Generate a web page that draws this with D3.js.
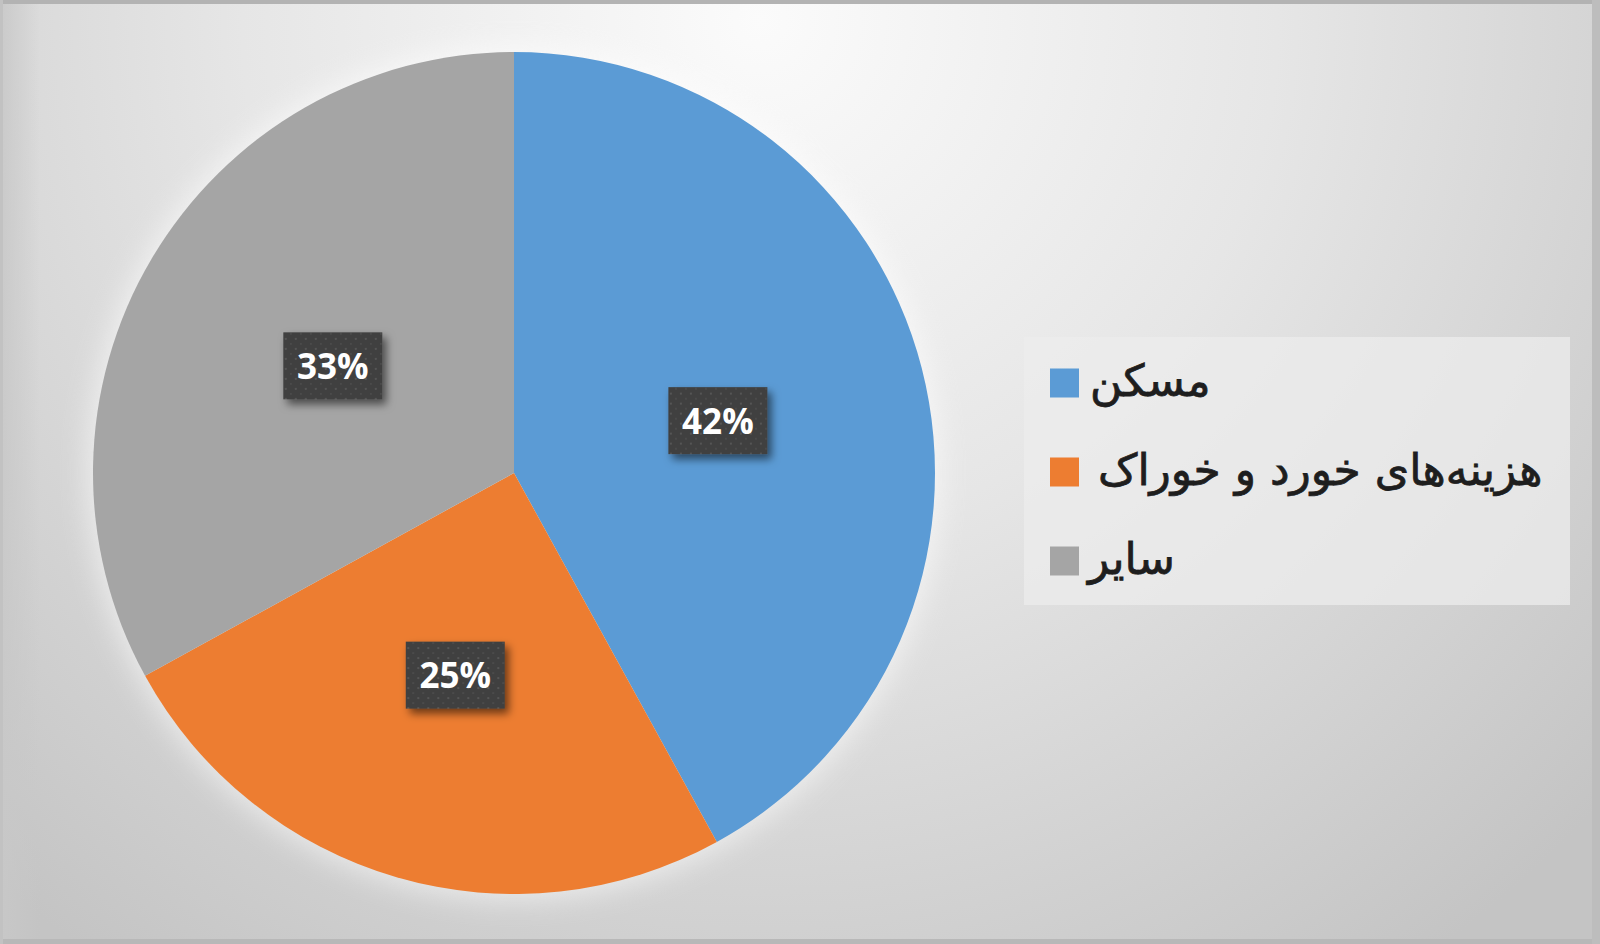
<!DOCTYPE html>
<html>
<head>
<meta charset="utf-8">
<script src="https://cdn.jsdelivr.net/npm/d3@7"></script>
<style>
  html, body { margin: 0; padding: 0; background: #d0d0d0; }
  svg { display: block; }
</style>
</head>
<body>
<div id="chart"></div>
<script>
// data
var categories = ["مسکن", "هزینه‌های خورد و خوراک", "سایر"];
var values = [42, 25, 33];
var labels = ["42%", "25%", "33%"];
var colors = ["#5B9BD5", "#ED7D31", "#A5A5A5"];

// dimensions
var width = 1600, height = 944;
var pieCenter = {x: 514, y: 473}, radius = 421;
var legend = {x: 1024, y: 337, w: 546, h: 268, sq: 29, rowStart: 383, rowStep: 89};

var svg = d3.select("#chart")
  .append("svg")
  .attr("width", width)
  .attr("height", height);

var defs = svg.append("defs");

// background radial gradient (white top middle -> grey edges)
var bgGrad = defs.append("radialGradient")
  .attr("id", "bg-grad")
  .attr("gradientUnits", "userSpaceOnUse")
  .attr("cx", 760).attr("cy", 20).attr("r", 1150);
bgGrad.append("stop").attr("offset", "0%").attr("stop-color", "#fbfbfb");
bgGrad.append("stop").attr("offset", "45%").attr("stop-color", "#e6e6e6");
bgGrad.append("stop").attr("offset", "100%").attr("stop-color", "#c4c4c4");

// darker shading at left edge
var leftGrad = defs.append("linearGradient").attr("id", "left-grad")
  .attr("x1", "0%").attr("x2", "100%").attr("y1", "0%").attr("y2", "0%");
leftGrad.append("stop").attr("offset", "0%").attr("stop-color", "#c8c8c8").attr("stop-opacity", 0.9);
leftGrad.append("stop").attr("offset", "100%").attr("stop-color", "#c8c8c8").attr("stop-opacity", 0);

// dotted texture for the label boxes
var dots = defs.append("pattern")
  .attr("id", "dots")
  .attr("patternUnits", "userSpaceOnUse")
  .attr("width", 10).attr("height", 10);
dots.append("rect").attr("width", 10).attr("height", 10).attr("fill", "#3f3f3f");
dots.append("circle").attr("cx", 3).attr("cy", 3).attr("r", 1.1).attr("fill", "#5a5a5a");
dots.append("circle").attr("cx", 8).attr("cy", 8).attr("r", 0.9).attr("fill", "#505050");

// shadow under label boxes
var shadow = defs.append("filter").attr("id", "shadow")
  .attr("x", "-30%").attr("y", "-30%").attr("width", "170%").attr("height", "170%");
shadow.append("feDropShadow")
  .attr("dx", 4).attr("dy", 5).attr("stdDeviation", 4)
  .attr("flood-color", "#000").attr("flood-opacity", 0.55);

// soft glow around the pie
var glow = defs.append("filter").attr("id", "glow")
  .attr("x", "-20%").attr("y", "-20%").attr("width", "140%").attr("height", "140%");
glow.append("feGaussianBlur").attr("stdDeviation", 14);

// background
svg.append("rect")
  .attr("width", width).attr("height", height)
  .attr("fill", "url(#bg-grad)");
svg.append("rect")
  .attr("width", 40).attr("height", height)
  .attr("fill", "url(#left-grad)");

// frame lines
svg.append("rect").attr("x", 0).attr("y", 0).attr("width", width).attr("height", 4).attr("fill", "#b3b3b3");
svg.append("rect").attr("x", 0).attr("y", 939).attr("width", width).attr("height", 5).attr("fill", "#b8b8b8");
svg.append("rect").attr("x", 1592).attr("y", 0).attr("width", 8).attr("height", height).attr("fill", "#bdbdbd");
svg.append("rect").attr("x", 0).attr("y", 0).attr("width", 3).attr("height", height).attr("fill", "#c2c2c2");

// pie
var pie = d3.pie().sort(null).value(function(d) { return d; });
var arc = d3.arc().innerRadius(0).outerRadius(radius);
var arcs = pie(values);

var pieG = svg.append("g")
  .attr("transform", `translate(${pieCenter.x}, ${pieCenter.y})`);

// glow halo behind pie
pieG.append("circle")
  .attr("r", radius + 6)
  .attr("fill", "#ffffff")
  .attr("opacity", 0.55)
  .attr("filter", "url(#glow)");

pieG.selectAll("path.slice")
  .data(arcs)
  .enter()
  .append("path")
  .attr("class", "slice")
  .attr("d", arc)
  .attr("fill", function(d, i) { return colors[i]; });

// data labels
var boxW = 99, boxH = 67;
var lab = pieG.selectAll("g.lab")
  .data(arcs)
  .enter()
  .append("g")
  .attr("class", "lab")
  .attr("transform", function(d) {
    var c = arc.centroid(d);
    return `translate(${c[0]}, ${c[1]})`;
  });

lab.append("rect")
  .attr("x", -boxW / 2).attr("y", -boxH / 2)
  .attr("width", boxW).attr("height", boxH)
  .attr("fill", "url(#dots)")
  .attr("filter", "url(#shadow)");

lab.append("text")
  .attr("text-anchor", "middle")
  .attr("y", 13)
  .attr("font-family", "'Open Sans', sans-serif")
  .attr("font-weight", "bold")
  .attr("font-size", "35px")
  .attr("fill", "#ffffff")
  .text(function(d, i) { return labels[i]; });

// legend
var legG = svg.append("g");
legG.append("rect")
  .attr("x", legend.x).attr("y", legend.y)
  .attr("width", legend.w).attr("height", legend.h)
  .attr("fill", "#ececec")
  .attr("opacity", 0.75);

var textOffset = [40, 48, 38];

var items = legG.selectAll("g.item")
  .data(categories)
  .enter()
  .append("g")
  .attr("class", "item")
  .attr("transform", function(d, i) {
    return `translate(${legend.x + 26}, ${legend.rowStart + i * legend.rowStep})`;
  });

items.append("rect")
  .attr("x", 0).attr("y", -legend.sq / 2)
  .attr("width", legend.sq).attr("height", legend.sq)
  .attr("fill", function(d, i) { return colors[i]; });

// regular weight with a thin stroke: between regular and bold like the original
items.append("text")
  .attr("x", function(d, i) { return textOffset[i]; })
  .attr("y", 13)
  .attr("font-family", "'DejaVu Sans', sans-serif")
  .attr("font-size", "44px")
  .attr("fill", "#1e1e1e")
  .attr("stroke", "#1e1e1e")
  .attr("stroke-width", 0.8)
  .text(function(d) { return d; });
</script>
</body>
</html>
